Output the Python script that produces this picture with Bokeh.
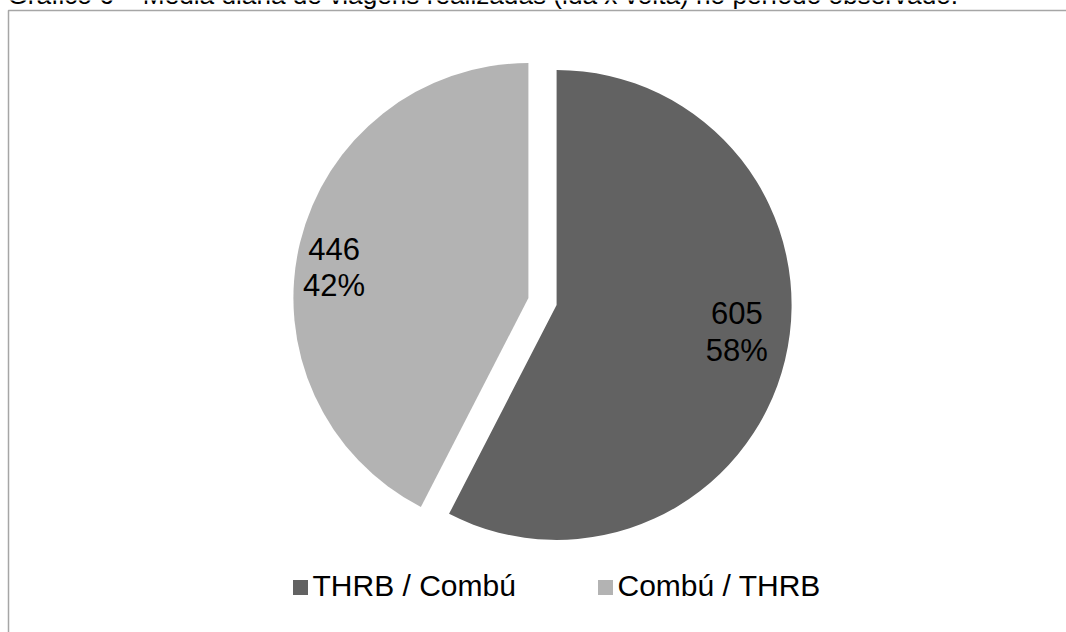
import numpy as np
from bokeh.plotting import figure
from bokeh.models import Range1d
from bokeh.core.properties import value
from bokeh.embed import file_html
from bokeh.resources import INLINE

# --- data -------------------------------------------------------------
title_text = "Gráfico 6 – Média diária de viagens realizadas (ida x volta) no período observado."
categories = ["THRB / Combú", "Combú / THRB"]
trips = [605, 446]
colors = ["#626262", "#b3b3b3"]

# --- layout (screen pixels, y measured from the top) -------------------
W, H = 1066, 632
FONT = value("Liberation Sans")
PIE_CX, PIE_CY = 542, 301
PIE_R = 235
EXPLODE = 14.5
LABEL_RX, LABEL_RY = 0.82, 0.52
LABEL_DX = -7
LABEL_SIZE = "31px"
LINE_GAP = 37
LEGEND_Y = 587
LEGEND_X0 = 300
LEGEND_STEP = 305
# the svg text renderer sits glyphs a little below the requested baseline
BASE_FIX = 0.42


def sy(y):
    """screen y (down) -> data y (up)"""
    return H - y


p = figure(width=W, height=H, x_range=Range1d(0, W), y_range=Range1d(0, H),
           output_backend="svg", toolbar_location=None, min_border=0,
           outline_line_color=None, background_fill_color="white",
           border_fill_color="white")
p.axis.visible = False
p.grid.visible = False

# caption running above the chart box (only its lower part is in view)
p.text(x=[7], y=[sy(6 - BASE_FIX * 26.2)], text=[title_text], text_font=FONT,
       text_font_size="26.2px", text_color="#000000",
       text_baseline="alphabetic", text_align="left")

# chart box
p.quad(left=[8], right=[1078], top=[sy(10)], bottom=[sy(650)],
       fill_color=None, line_color="#a6a6a6", line_width=1.5)

# --- pie ---------------------------------------------------------------
vals = np.array(trips, dtype=float)
frac = vals / vals.sum()
ends = np.cumsum(frac)
starts = ends - frac
mids = (starts + ends) / 2

theta_mid = np.pi / 2 - 2 * np.pi * mids
ox = PIE_CX + EXPLODE * np.cos(theta_mid)
oy = sy(PIE_CY) + EXPLODE * np.sin(theta_mid)

p.wedge(x=ox, y=oy, radius=PIE_R,
        start_angle=np.pi / 2 - 2 * np.pi * ends,
        end_angle=np.pi / 2 - 2 * np.pi * starts,
        fill_color=colors, line_color=None)

# data labels: value on the first line, share on the second
lx = ox + PIE_R * LABEL_RX * np.cos(theta_mid) + LABEL_DX
ly = oy + PIE_R * LABEL_RY * np.sin(theta_mid) + BASE_FIX * 31
value_txt = [str(v) for v in trips]
pct_txt = [f"{round(f * 100):.0f}%" for f in frac]

p.text(x=lx, y=ly + 7.5, text=value_txt, text_font=FONT,
       text_font_size=LABEL_SIZE, text_color="#000000",
       text_align="center", text_baseline="alphabetic")
p.text(x=lx, y=ly + 7.5 - LINE_GAP, text=pct_txt, text_font=FONT,
       text_font_size=LABEL_SIZE, text_color="#000000",
       text_align="center", text_baseline="alphabetic")

# --- legend --------------------------------------------------------------
leg_x = [LEGEND_X0 + i * LEGEND_STEP for i in range(len(categories))]
p.scatter(x=leg_x, y=[sy(LEGEND_Y)] * len(categories), marker="square",
          size=15, fill_color=colors, line_color=None)
p.text(x=[x + 12 for x in leg_x],
       y=[sy(LEGEND_Y + 11 - BASE_FIX * 30)] * len(categories),
       text=categories, text_font=FONT, text_font_size="30px",
       text_color="#000000", text_align="left", text_baseline="alphabetic")

open("out.html", "w").write(file_html(p, INLINE))
